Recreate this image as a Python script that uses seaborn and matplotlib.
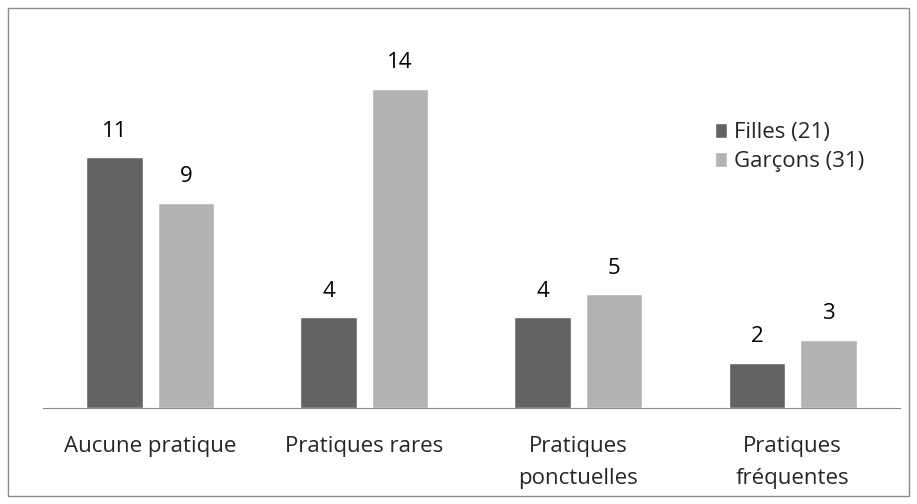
import seaborn as sns
import matplotlib.pyplot as plt
import pandas as pd
from matplotlib.patches import Rectangle

sns.set_style("white")
plt.rcParams['font.family'] = ['Open Sans', 'DejaVu Sans']

categories = ["Aucune pratique", "Pratiques rares", "Pratiques\nponctuelles", "Pratiques\nfréquentes"]
filles = [11, 4, 4, 2]
garcons = [9, 14, 5, 3]
series_names = ["Filles (21)", "Garçons (31)"]

df = pd.DataFrame({
    "cat": categories * 2,
    "val": filles + garcons,
    "serie": [series_names[0]] * 4 + [series_names[1]] * 4,
})

fig = plt.figure(figsize=(9.17, 5.04), dpi=100)
ax = fig.add_axes([0.047, 0.19, 0.934, 0.725])

sns.barplot(data=df, x="cat", y="val", hue="serie", ax=ax,
            palette=["#636363", "#b3b3b3"], width=0.668, gap=0.21,
            saturation=1, legend=True)

for cont in ax.containers:
    ax.bar_label(cont, padding=11, fontsize=16, color="black")

ax.set_ylim(0, 16)
ax.set_xlim(-0.5, 3.5)
ax.set_xlabel("")
ax.set_ylabel("")
ax.set_yticks([])
ax.tick_params(axis="x", length=0, pad=20, labelsize=16)
for lbl in ax.get_xticklabels():
    lbl.set_linespacing(1.7)
for s in ["top", "right", "left"]:
    ax.spines[s].set_visible(False)
ax.spines["bottom"].set_color("#8c8c8c")

ax.legend(loc="upper left", bbox_to_anchor=(0.758, 0.797), bbox_transform=fig.transFigure,
          frameon=False, fontsize=16, handlelength=0.55, handleheight=0.6,
          handletextpad=0.3, labelspacing=0.36)

fig.patches.append(Rectangle((8 / 917, 8 / 504), 901 / 917, 488 / 504,
                             transform=fig.transFigure, fill=False,
                             edgecolor="#8c8c8c", linewidth=1))

plt.savefig("out.png", dpi=100)
